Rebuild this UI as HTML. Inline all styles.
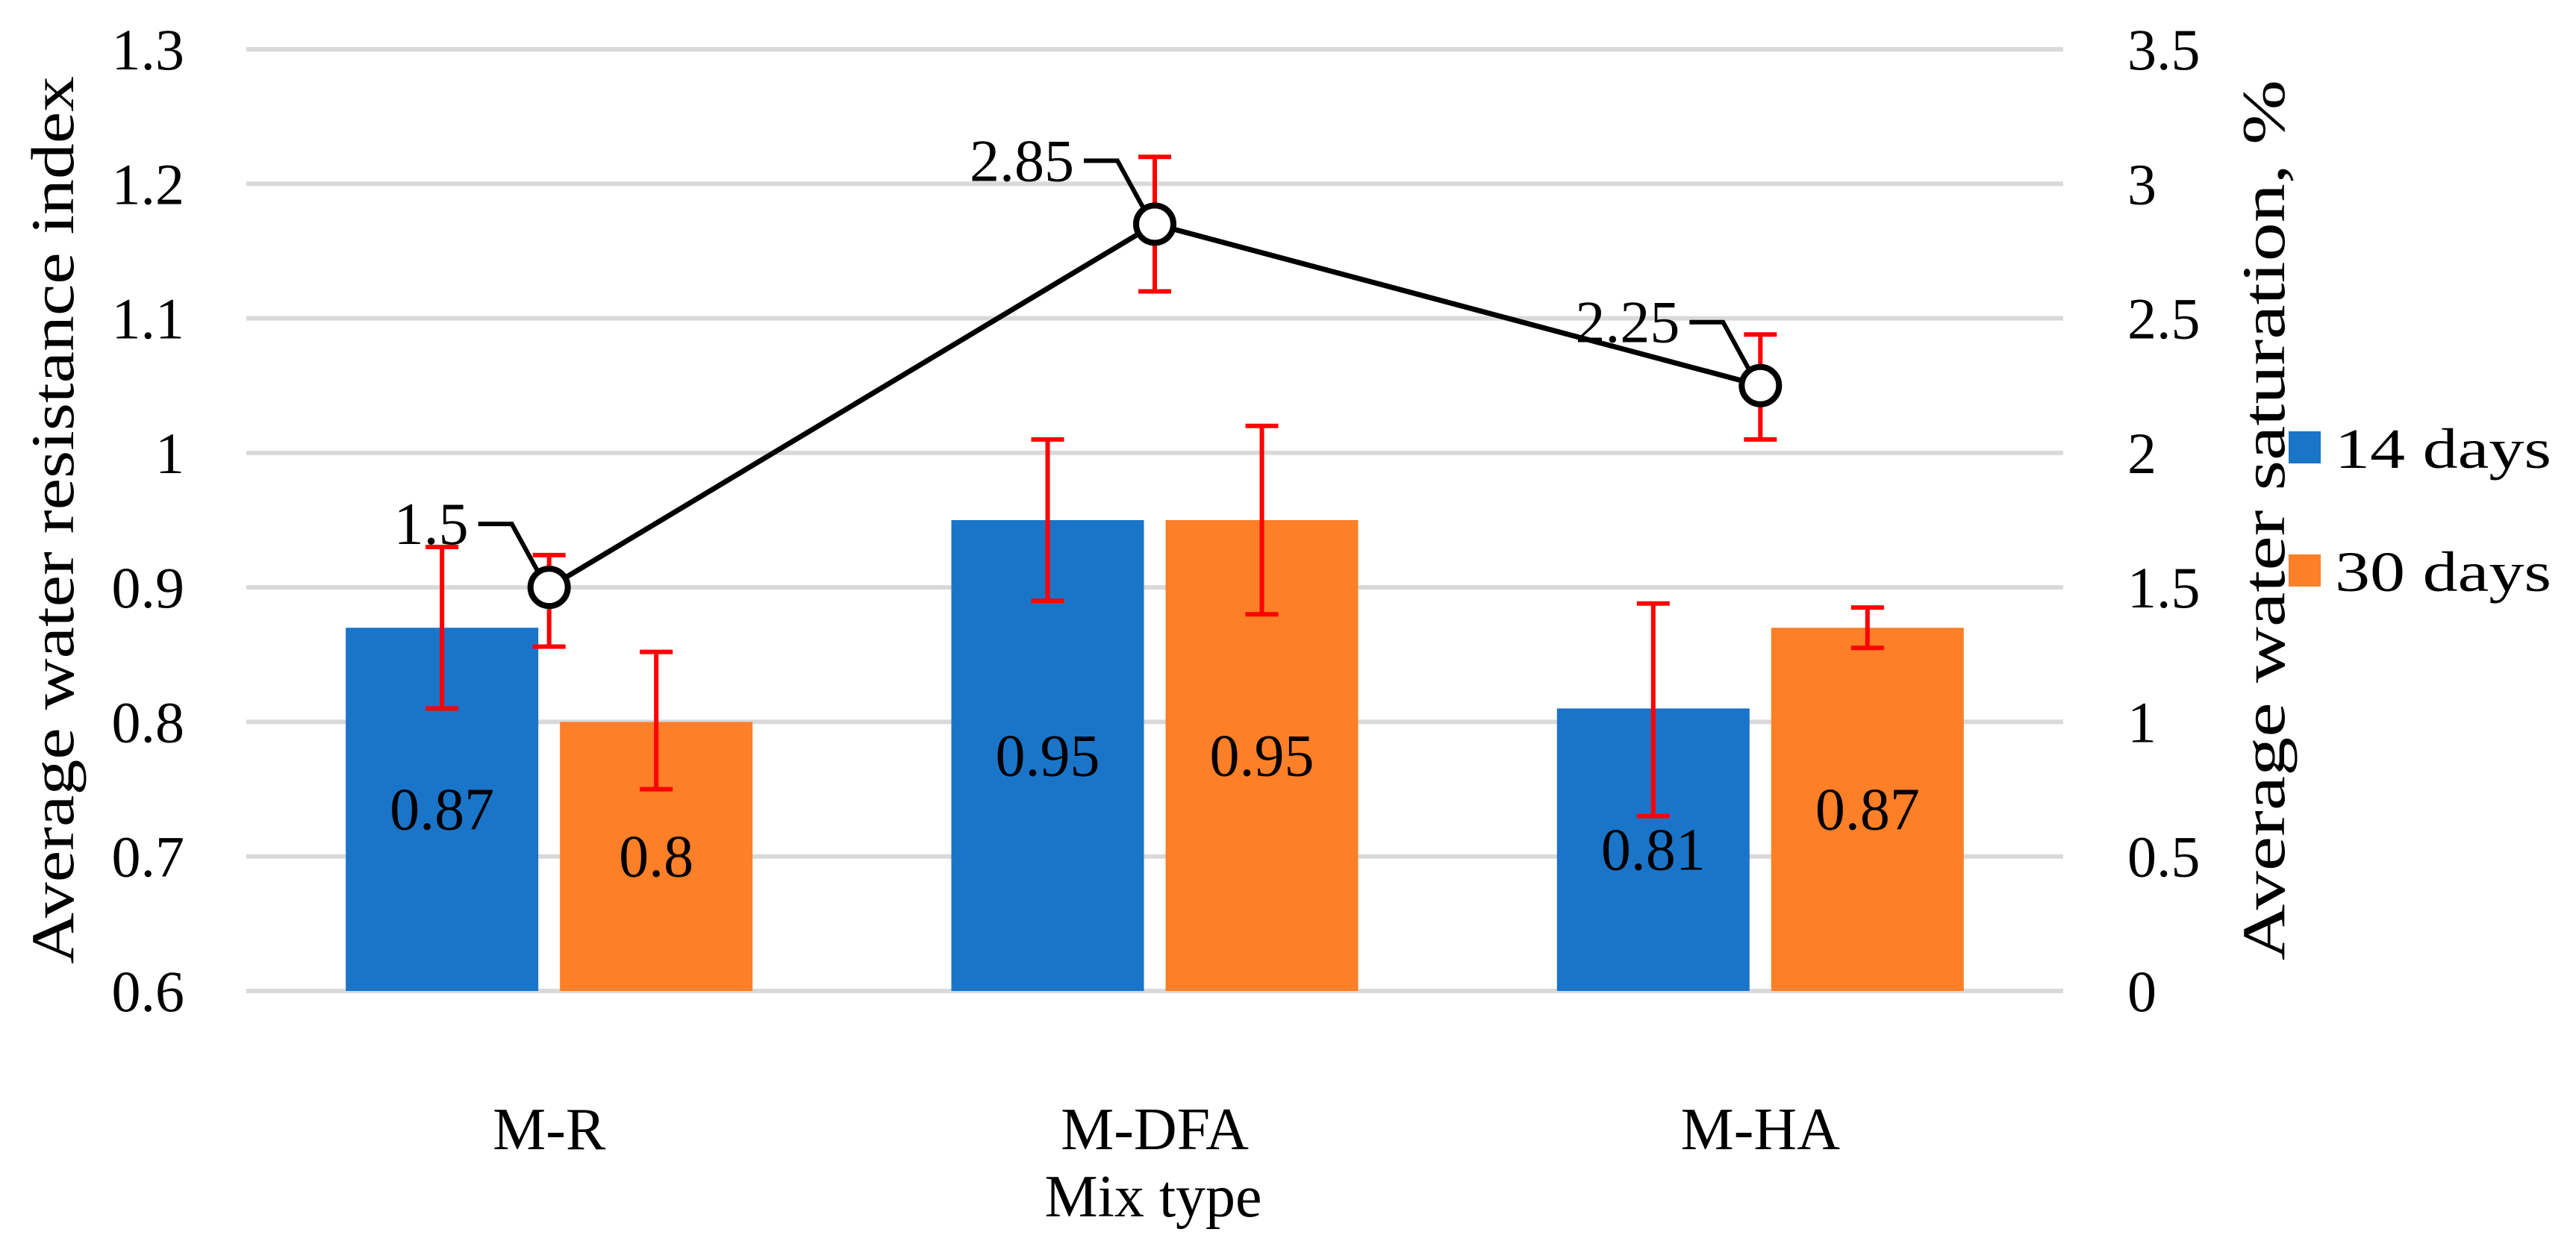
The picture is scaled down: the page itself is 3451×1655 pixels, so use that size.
<!DOCTYPE html>
<html><head><meta charset="utf-8"><style>
html,body{margin:0;padding:0;background:#fff}
svg{display:block;font-family:"Liberation Serif",serif}
</style></head><body>
<svg id="chart" width="3451" height="1655" viewBox="0 0 3451 1655" xmlns="http://www.w3.org/2000/svg">
<g id="grid"></g>
<g id="bars"></g>
<g id="line"></g>
<g id="labels"></g>
<text transform="translate(98,697) rotate(-90)" text-anchor="middle" font-size="82" textLength="1190" lengthAdjust="spacingAndGlyphs">Average water resistance index</text>
<text transform="translate(3060,697) rotate(-90)" text-anchor="middle" font-size="82" textLength="1180" lengthAdjust="spacingAndGlyphs">Average water saturation, %</text>
<text x="1545" y="1630" text-anchor="middle" font-size="80">Mix type</text>
<g>
<rect x="3066" y="578" width="43" height="43" fill="#1a75c9"/>
<text x="3128" y="627" font-size="76" textLength="290" lengthAdjust="spacingAndGlyphs">14 days</text>
<rect x="3066" y="743" width="43" height="43" fill="#fd7f28"/>
<text x="3128" y="792" font-size="76" textLength="290" lengthAdjust="spacingAndGlyphs">30 days</text>
</g>
</svg>
<script>
const categories = ["M-R","M-DFA","M-HA"];
const days14 = [0.87,0.95,0.81];
const days30 = [0.8,0.95,0.87];
const err14Low = [0.81,0.89,0.73];
const err14High = [0.93,1.01,0.888];
const err30Low = [0.75,0.88,0.855];
const err30High = [0.852,1.02,0.885];
const saturation = [1.5,2.85,2.25];
const satErrLow = [1.28,2.6,2.05];
const satErrHigh = [1.62,3.1,2.44];
const leftTicks = ["0.6","0.7","0.8","0.9","1","1.1","1.2","1.3"];
const rightTicks = ["0","0.5","1","1.5","2","2.5","3","3.5"];

const NS="http://www.w3.org/2000/svg";
const X0=330,X1=2764,Y0=1328,Y1=66;
const yL=v=>Y0-(v-0.6)/0.7*(Y0-Y1);
const yR=v=>Y0-v/3.5*(Y0-Y1);
const band=(X1-X0)/categories.length;
const xc=i=>X0+band*(i+0.5);
const BW=258,GAP=29;
function mk(tag,attrs,parent){const e=document.createElementNS(NS,tag);for(const k in attrs)e.setAttribute(k,attrs[k]);parent.appendChild(e);return e;}
const grid=document.getElementById('grid'),bars=document.getElementById('bars'),line=document.getElementById('line'),labels=document.getElementById('labels');
leftTicks.forEach((t,i)=>{
  const v=parseFloat(t),y=yL(v);
  const g=mk('line',{x1:X0,x2:X1,y1:y,y2:y,stroke:'#d9d9d9','stroke-width':6},grid);
  
  
  const tx=mk('text',{x:247,y:y+27,'text-anchor':'end','font-size':78},labels);tx.textContent=t;
  
  
});
rightTicks.forEach(t=>{
  const y=yR(parseFloat(t));
  const tx=mk('text',{x:2850,y:y+27,'font-size':78},labels);tx.textContent=t;
  
  
});
function errBar(x,lo,hi,f){
  const a=f(lo),b=f(hi);
  const g=mk('g',{stroke:'#ff0000','stroke-width':6},bars);
  
  
  mk('line',{x1:x,x2:x,y1:a,y2:b},g);
  mk('line',{x1:x-22,x2:x+22,y1:a,y2:a},g);
  mk('line',{x1:x-22,x2:x+22,y1:b,y2:b},g);
}
categories.forEach((c,i)=>{
  const cx=xc(i);
  [[days14,'#1a75c9',-1,'bar-14-days'],[days30,'#fd7f28',1,'bar-30-days']].forEach(([arr,col,s,nm])=>{
    const x=s<0?cx-GAP/2-BW:cx+GAP/2;
    const y=yL(arr[i]);
    const r=mk('rect',{x:x,y:y,width:BW,height:Y0-y,fill:col},bars);
    
    
    const t=mk('text',{x:x+BW/2,y:(y+Y0)/2+27,'text-anchor':'middle','font-size':80},bars);
    t.textContent=String(arr[i]);
    
    
  });
  const xl=mk('text',{x:cx,y:1540,'text-anchor':'middle','font-size':80},labels);xl.textContent=c;
  
  
});
categories.forEach((c,i)=>{
  const cx=xc(i);
  errBar(cx-GAP/2-BW/2,err14Low[i],err14High[i],yL);
  errBar(cx+GAP/2+BW/2,err30Low[i],err30High[i],yL);
});
const pts=saturation.map((v,i)=>[xc(i),yR(v)]);
const pl=mk('polyline',{points:pts.map(p=>p.join(',')).join(' '),fill:'none',stroke:'#000','stroke-width':7},line);


saturation.forEach((v,i)=>{
  const [x,y]=pts[i];
  errBar(x,satErrLow[i],satErrHigh[i],yR);
  const lp=mk('polyline',{points:`${x-95},${y-85} ${x-50},${y-85} ${x-10},${y-12}`,fill:'none',stroke:'#000','stroke-width':6},line);
  
  
  const t=mk('text',{x:x-108,y:y-58,'text-anchor':'end','font-size':80},line);t.textContent=String(v);
  
  
});
saturation.forEach((v,i)=>{
  const [x,y]=pts[i];
  const c=mk('circle',{cx:x,cy:y,r:25,fill:'#fff',stroke:'#000','stroke-width':8},line);
  
  
});
</script>
</body></html>
